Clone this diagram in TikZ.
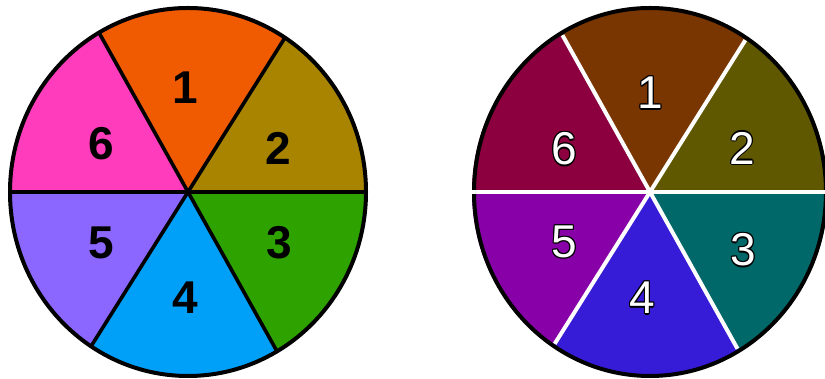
\documentclass[tikz,border=0pt]{standalone}
\usepackage{fontspec}
\setmainfont{Liberation Sans}
\definecolor{L1}{HTML}{F05A00}
\definecolor{L2}{HTML}{A88400}
\definecolor{L3}{HTML}{2EA300}
\definecolor{L4}{HTML}{00A0F8}
\definecolor{L5}{HTML}{8B66FF}
\definecolor{L6}{HTML}{FF3CBC}
\definecolor{R1}{HTML}{7A3600}
\definecolor{R2}{HTML}{5F5800}
\definecolor{R3}{HTML}{006868}
\definecolor{R4}{HTML}{361CD6}
\definecolor{R5}{HTML}{8800A8}
\definecolor{R6}{HTML}{8C0040}
\newcommand\piewedge[3]{\fill[#1] (0,0) -- (#2:178pt and 184pt) arc[start angle=#2, end angle=#3, x radius=178pt, y radius=184pt] -- cycle;}
\newcommand\olcopy[3]{\rlap{\kern#1\raisebox{#2}{\textcolor{black}{#3}}}}
\newcommand\outlinedtext[1]{\leavevmode
  \olcopy{1.2pt}{0pt}{#1}\olcopy{-1.2pt}{0pt}{#1}%
  \olcopy{0pt}{1.2pt}{#1}\olcopy{0pt}{-1.2pt}{#1}%
  \olcopy{0.85pt}{0.85pt}{#1}\olcopy{-0.85pt}{0.85pt}{#1}%
  \olcopy{0.85pt}{-0.85pt}{#1}\olcopy{-0.85pt}{-0.85pt}{#1}%
  \textcolor{white}{#1}}
\tikzset{
  numL/.style={font=\fontsize{46}{46}\selectfont\bfseries, inner sep=0pt},
  numR/.style={font=\fontsize{46}{46}\selectfont, inner sep=0pt},
  rim/.style={draw=black, line width=4pt},
  divL/.style={draw=black, line width=3.6pt},
  divR/.style={draw=white, line width=4pt}
}
\begin{document}
\begin{tikzpicture}[x=1pt,y=1pt]
\useasboundingbox (0,0) rectangle (825,379);
% left pie
\begin{scope}[shift={(188,187)}]
  \coordinate (lc) at (0,0);
  \piewedge{L1}{57}{120}
  \piewedge{L2}{0}{57}
  \piewedge{L3}{-60}{0}
  \piewedge{L4}{-123}{-60}
  \piewedge{L5}{180}{237}
  \piewedge{L6}{120}{180}
  \coordinate (la0) at (0:178pt and 184pt);
  \coordinate (la57) at (57:178pt and 184pt);
  \coordinate (la120) at (120:178pt and 184pt);
  \coordinate (la180) at (180:178pt and 184pt);
  \coordinate (la237) at (237:178pt and 184pt);
  \coordinate (la300) at (300:178pt and 184pt);
  \draw[divL] (la0) -- (la180);
  \draw[divL] (la57) -- (la237);
  \draw[divL] (la120) -- (la300);
  \draw[rim] (lc) ellipse[x radius=178pt, y radius=184pt];
\end{scope}
\node[numL] (l1) at (185,291) {1};
\node[numL] (l2) at (278,231) {2};
\node[numL] (l3) at (279,136) {3};
\node[numL] (l4) at (185,81) {4};
\node[numL] (l5) at (101,136) {5};
\node[numL] (l6) at (101,235) {6};
% right pie
\begin{scope}[shift={(650,187)}]
  \coordinate (rc) at (0,0);
  \piewedge{R1}{57}{120}
  \piewedge{R2}{0}{57}
  \piewedge{R3}{-60}{0}
  \piewedge{R4}{-123}{-60}
  \piewedge{R5}{180}{237}
  \piewedge{R6}{120}{180}
  \draw[rim] (rc) ellipse[x radius=176pt, y radius=184pt];
  \coordinate (ra0) at (0:178pt and 182pt);
  \coordinate (ra57) at (57:175pt and 181pt);
  \coordinate (ra120) at (120:175pt and 181pt);
  \coordinate (ra180) at (180:179pt and 182pt);
  \coordinate (ra237) at (237:175pt and 181pt);
  \coordinate (ra300) at (300:175pt and 181pt);
  \draw[divR] (ra0) -- (ra180);
  \draw[divR] (ra57) -- (ra237);
  \draw[divR] (ra120) -- (ra300);
\end{scope}
\node[numR] (r1) at (650,286) {\outlinedtext{1}};
\node[numR] (r2) at (742,231) {\outlinedtext{2}};
\node[numR] (r3) at (743,129) {\outlinedtext{3}};
\node[numR] (r4) at (642,81) {\outlinedtext{4}};
\node[numR] (r5) at (564,137) {\outlinedtext{5}};
\node[numR] (r6) at (564,230) {\outlinedtext{6}};
\end{tikzpicture}
\end{document}
